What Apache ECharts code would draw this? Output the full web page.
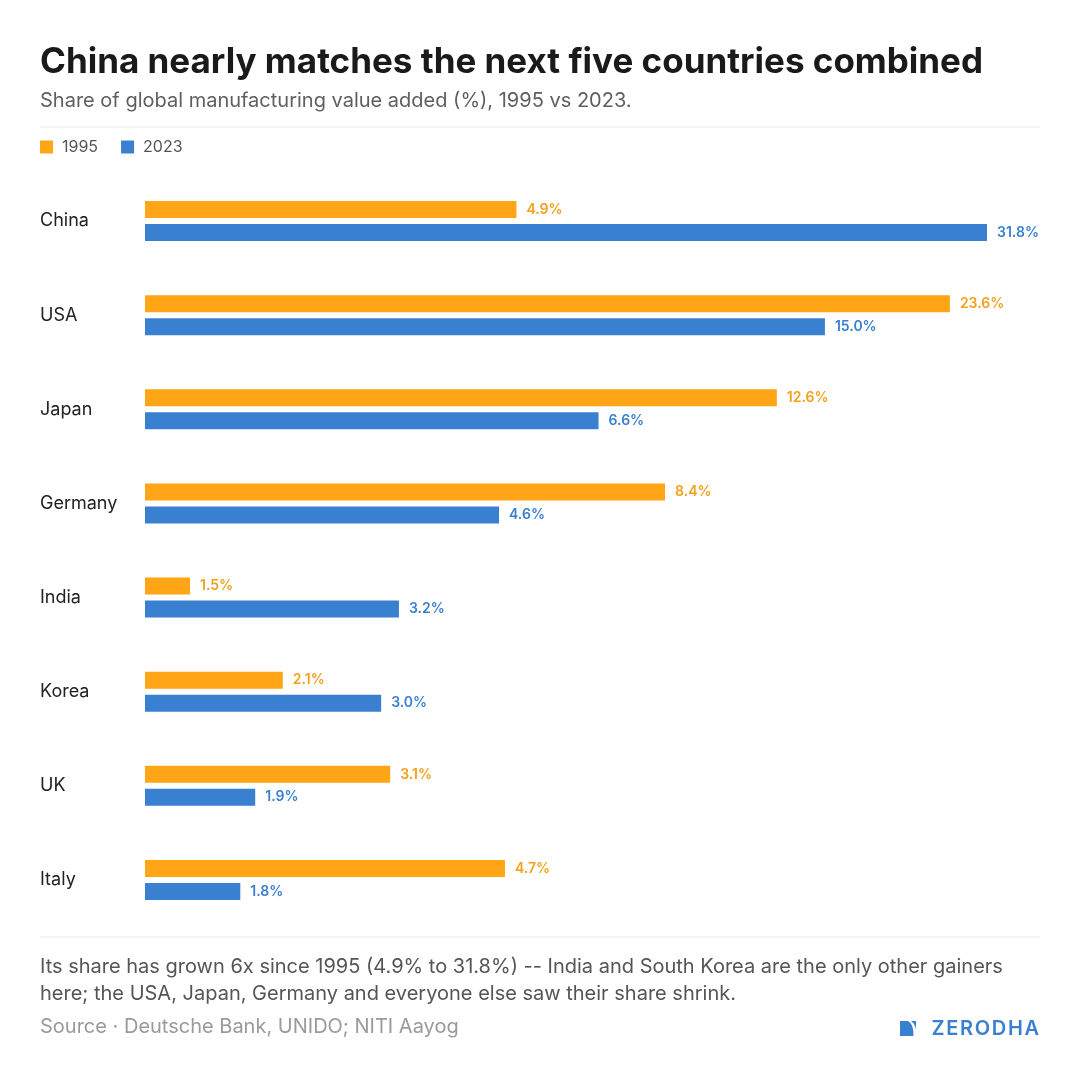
<!DOCTYPE html>
<html>
<head>
<meta charset="utf-8">
<script src="https://cdn.jsdelivr.net/npm/echarts@6/dist/echarts.min.js"></script>
<style>
  html, body { margin: 0; padding: 0; background: #fff; }
  #chart { width: 1080px; height: 1080px; }
</style>
</head>
<body>
<div id="chart"></div>
<script>
const countries = ['China', 'USA', 'Japan', 'Germany', 'India', 'Korea', 'UK', 'Italy'];
const share1995 = [4.9, 23.6, 12.6, 8.4, 1.5, 2.1, 3.1, 4.7];
const share2023 = [31.8, 15.0, 6.6, 4.6, 3.2, 3.0, 1.9, 1.8];
const seriesNames = ['1995', '2023'];

const titleText = 'China nearly matches the next five countries combined';
const subtitleText = 'Share of global manufacturing value added (%), 1995 vs 2023.';
const noteText = 'Its share has grown 6x since 1995 (4.9% to 31.8%) -- India and South Korea are the only other gainers\nhere; the USA, Japan, Germany and everyone else saw their share shrink.';
const sourceText = 'Source · Deutsche Bank, UNIDO; NITI Aayog';
const brandText = 'Z\u200AE\u200AR\u200AO\u200AD\u200AH\u200AA';

const ORANGE = '#FFA516';
const BLUE = '#3A80D1';
const FONT = 'Inter, "Noto Sans", sans-serif';

const chart = echarts.init(document.getElementById('chart'), null, { renderer: 'canvas' });

const labelFmt = p => p.value.toFixed(1) + '%';

chart.setOption({
  backgroundColor: '#ffffff',
  textStyle: { fontFamily: FONT },
  animation: false,
  legend: {
    left: 40,
    top: 139,
    padding: 0,
    itemWidth: 13,
    itemHeight: 13,
    itemGap: 23,
    icon: 'rect',
    data: seriesNames,
    textStyle: { fontSize: 16, color: '#555', fontFamily: FONT, padding: [0, 0, 0, 4] }
  },
  grid: { left: 145, right: 93, top: 174, bottom: 153, containLabel: false },
  xAxis: {
    type: 'log',
    logBase: 10,
    min: 1.274,
    max: 27,
    show: false,
    splitLine: { show: false }
  },
  yAxis: {
    type: 'category',
    data: countries,
    inverse: true,
    axisLine: { show: false },
    axisTick: { show: false },
    splitLine: { show: false },
    axisLabel: {
      align: 'left',
      margin: 105,
      fontSize: 18,
      color: '#222',
      fontFamily: FONT
    }
  },
  series: [
    {
      name: seriesNames[0],
      type: 'bar',
      data: share1995,
      barWidth: 17,
      barGap: '35%',
      clip: true,
      itemStyle: { color: ORANGE },
      label: {
        show: true, position: 'right', distance: 10,
        formatter: labelFmt,
        color: '#F5A01A', fontSize: 14, fontWeight: 600, fontFamily: FONT
      }
    },
    {
      name: seriesNames[1],
      type: 'bar',
      data: share2023,
      barWidth: 17,
      barGap: '35%',
      clip: true,
      itemStyle: { color: BLUE },
      label: {
        show: true, position: 'right', distance: 10,
        formatter: labelFmt,
        color: BLUE, fontSize: 14, fontWeight: 600, fontFamily: FONT
      }
    }
  ],
  graphic: [
    { type: 'text', silent: true,
      style: { text: titleText, x: 40, y: 62, fontSize: 35, fontWeight: 700, fill: '#1a1a1a', fontFamily: FONT, verticalAlign: 'middle' } },
    { type: 'text', silent: true,
      style: { text: subtitleText, x: 40, y: 101, fontSize: 20, fill: '#5f5f5f', fontFamily: FONT, verticalAlign: 'middle' } },
    { type: 'line', silent: true,
      shape: { x1: 40, y1: 127, x2: 1040, y2: 127 }, style: { stroke: '#ebebeb', lineWidth: 1 } },
    { type: 'line', silent: true,
      shape: { x1: 40, y1: 937, x2: 1040, y2: 937 }, style: { stroke: '#ebebeb', lineWidth: 1 } },
    { type: 'text', silent: true,
      style: { text: noteText, x: 40, y: 953, fontSize: 20, lineHeight: 27, fill: '#555', fontFamily: FONT, verticalAlign: 'top' } },
    { type: 'text', silent: true,
      style: { text: sourceText, x: 40, y: 1027, fontSize: 20, fill: '#9a9a9a', fontFamily: FONT, verticalAlign: 'middle' } },
    { type: 'polygon', silent: true, x: 900, y: 1021,
      shape: { points: [[0, 0], [8, 0], [10.5, 2], [12.2, 5], [13.2, 9], [13.5, 15], [0, 15]] },
      style: { fill: BLUE } },
    { type: 'polygon', silent: true, x: 900, y: 1021,
      shape: { points: [[11, 0], [16, 0], [16, 9], [15.2, 5.5], [13.6, 2.5]] },
      style: { fill: BLUE } },
    { type: 'text', silent: true,
      style: { text: brandText, x: 1039, y: 1029, align: 'right', fontSize: 20, fontWeight: 600, fill: BLUE, fontFamily: FONT, verticalAlign: 'middle' } }
  ]
});
</script>
</body>
</html>
